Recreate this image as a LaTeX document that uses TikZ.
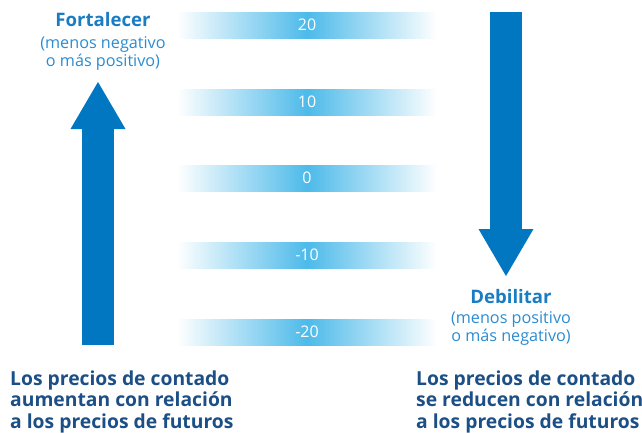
\documentclass[tikz,border=0pt]{standalone}
\usepackage{fontspec}
\setmainfont{Open Sans}
\usetikzlibrary{arrows.meta}
\usetikzlibrary{positioning}

\definecolor{arrowblue}{HTML}{0077C0}
\definecolor{headblue}{HTML}{1A7CC3}
\definecolor{subblue}{HTML}{2B8CD0}
\definecolor{darkblue}{HTML}{1C4F86}
\definecolor{barblue}{HTML}{4DBAEA}

\begin{document}
\begin{tikzpicture}
			[
			x=1pt, y=-1pt,
			font=\fontsize{15}{18}\selectfont
			]
			
			% Styles for bars, arrows and labels
			\tikzstyle{bar}=[minimum width=260pt,minimum height=26pt,inner sep=0,
				left color=white,right color=white,middle color=barblue,
				text=white,font=\fontsize{16}{16}\selectfont]
			\tikzstyle{big arrow}=[arrowblue,line width=32pt,
				-{Triangle[width=55pt,length=47pt,line width=0pt]}]
			\tikzstyle{head}=[anchor=base,inner sep=0,text=headblue,
				font=\fontsize{18.6}{18}\bfseries\selectfont]
			\tikzstyle{sub}=[anchor=base,inner sep=0,text=subblue,align=center,
				font=\fontsize{16.2}{17.5}\selectfont]
			\tikzstyle{result}=[anchor=base west,inner sep=0,text=darkblue,align=left,
				font=\fontsize{19.3}{21.5}\bfseries\selectfont]
			
			\useasboundingbox (0,0) rectangle (642,432);
			
			% The scale
			\foreach \v/\y [count=\i] in {20/25, 10/102, 0/178, -10/255, -20/332}
				\node[bar](bar\i) at (307,\y){\v};
			
			% Fortalecer (left), sub text placed at its last baseline
			\node[head](up) at (103,26){Fortalecer};
			\node[sub](upsub) at (103,66){(menos negativo\\o más positivo)};
			\coordinate (upstart) at (98,345);
			\coordinate (upend) at (98,82);
			\draw[big arrow](upstart)--(upend);
			
			% Debilitar (right)
			\coordinate (downstart) at (506,12);
			\coordinate (downend) at (506,276);
			\draw[big arrow](downstart)--(downend);
			\node[head](down) at (511,303){Debilitar};
			\node[sub](downsub) at (511,341){(menos positivo\\o más negativo)};
			
			% Results
			\node[result](rise) at (10,428){Los precios de contado\\aumentan con relación\\a los precios de futuros};
			\node[result](fall) at (416,428){Los precios de contado\\se reducen con relación\\a los precios de futuros};
			\end{tikzpicture}
\end{document}
